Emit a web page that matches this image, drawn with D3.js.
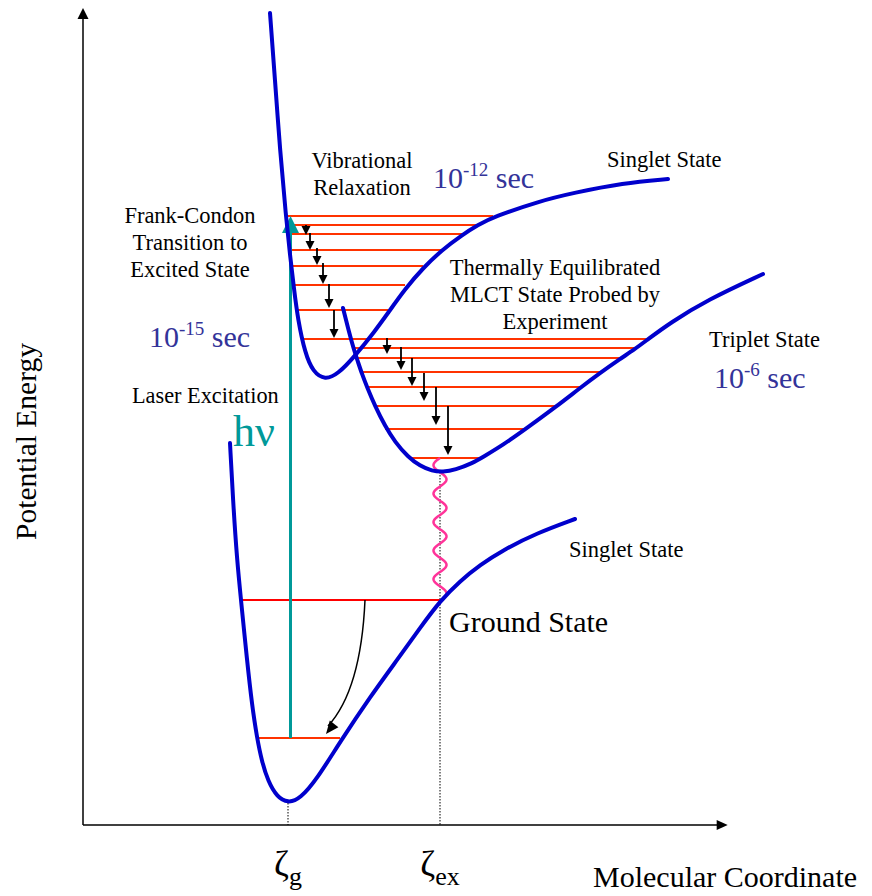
<!DOCTYPE html>
<html><head><meta charset="utf-8">
<script src="https://cdn.jsdelivr.net/npm/d3@7"></script>
<style>body{margin:0;background:#fff}</style>
</head><body>
<svg id="c" width="872" height="896"></svg>
<script>
// ---- data (x: molecular coordinate, y: potential energy; arbitrary units) ----
const groundCurve = [[14.7,38.2],[15.0,32.5],[15.4,26.5],[15.8,22.5],[16.4,16.5],[16.9,12.0],[17.4,8.7],[17.9,6.3],[18.5,4.4],[19.4,2.8],[20.5,2.2],[21.7,2.6],[23.4,4.6],[25.7,8.3],[28.7,12.8],[31.7,16.9],[33.7,19.7],[35.7,22.4],[37.7,24.4],[39.7,26.0],[42.0,27.5],[45.4,29.2],[49.2,30.6]];
const singletCurve = [[18.7,81.2],[19.2,74.5],[19.7,67.5],[20.3,60.8],[20.7,57.0],[21.1,53.6],[21.5,50.5],[22.2,47.2],[23.0,45.3],[24.2,44.5],[25.5,45.1],[27.2,46.9],[29.2,49.4],[30.5,51.2],[32.2,53.6],[34.0,55.7],[35.9,57.5],[37.9,59.0],[39.5,60.0],[41.0,60.8],[45.7,62.4],[49.0,63.2],[54.0,64.2],[58.5,64.6]];
const tripletCurve = [[26.0,51.7],[26.6,49.3],[27.1,47.5],[27.5,46.3],[27.9,45.1],[28.4,43.8],[29.2,41.9],[30.2,39.9],[31.2,38.3],[32.5,36.8],[33.7,35.9],[34.9,35.4],[36.0,35.3],[37.2,35.5],[39.0,36.2],[40.0,36.8],[42.0,38.0],[44.4,39.7],[47.4,41.9],[49.7,43.7],[51.7,45.2],[53.7,46.6],[55.2,47.6],[56.4,48.5],[58.7,50.2],[62.4,52.5],[68.0,55.1]];
// vibrational levels: [energy, coordFrom, coordTo]
const singletLevels = [[60.9,20.4,41.0],[60.0,20.4,39.5],[59.1,20.5,37.9],[57.5,20.7,35.9],[55.9,20.9,34.0],[54.0,21.0,32.2],[51.5,21.4,30.5]];
const tripletLevels = [[48.6,21.9,56.4],[47.7,27.2,55.2],[46.7,27.4,53.7],[45.3,27.9,51.7],[43.8,28.4,49.7],[41.9,29.2,47.4],[39.6,30.2,44.4],[36.7,32.5,39.9]];
const groundLevels = [[22.5,15.8,35.7],[8.7,17.4,25.7]];
// relaxation arrows: [coord, energyFrom, energyTo]
const singletRelax = [[22.3,60.0,59.0],[22.7,59.2,57.5],[23.4,57.7,56.0],[24.0,56.2,54.1],[24.6,54.1,51.7],[25.1,51.5,48.7]];
const tripletRelax = [[30.4,48.7,47.1],[31.8,47.8,45.5],[32.9,46.7,43.9],[34.1,45.2,42.4],[35.3,43.8,40.0],[36.5,41.9,37.0]];
// laser excitation: [coord, energyFrom, energyTo]
const excitation = [20.75, 8.7, 60.9];
// non-radiative decay (wavy): [coord, energyFrom, energyTo]
const decay = [35.7, 36.7, 22.7];
// ground-state relaxation curved arrow: start, control, end
const groundRelax = [[28.2,22.5],[27.8,13.5],[24.3,9.1]];
// coordinate ticks
const tickCoords = [20.5, 35.7];
const tickSubs = ["g", "ex"];
const tickFloors = [2.2, 35.3];

// ---- drawing ----
const svg = d3.select("#c");
const x = d3.scaleLinear().domain([0, 64.47]).range([83, 727.7]);
const y = d3.scaleLinear().domain([0, 81.7]).range([825, 8]);
const SERIF = "'Liberation Serif','Times New Roman',serif";
const BLUE = "#0000cc", RED = "#ff3300", TEAL = "#009999", TXTBLUE = "#333399";

// axes
const ax = svg.append("g").attr("stroke","#000").attr("stroke-width",1.5);
ax.append("line").attr("x1",x(0)).attr("y1",y(0)).attr("x2",x(0)).attr("y2",y(81.7)+10);
ax.append("line").attr("x1",x(0)).attr("y1",y(0)).attr("x2",x(64.47)-10).attr("y2",y(0));
svg.append("path").attr("fill","#000")
  .attr("d",`M${x(0)},${y(81.7)} L${x(0)-5.5},${y(81.7)+11} L${x(0)+5.5},${y(81.7)+11}Z`);
svg.append("path").attr("fill","#000")
  .attr("d",`M${x(64.47)},${y(0)} L${x(64.47)-11},${y(0)-5} L${x(64.47)-11},${y(0)+5}Z`);

// dotted drop lines
tickCoords.forEach((c,i)=>{
  svg.append("line").attr("x1",x(c)).attr("x2",x(c)).attr("y1",y(tickFloors[i])).attr("y2",y(0))
    .attr("stroke","#000").attr("stroke-width",1).attr("stroke-dasharray","1.5,1.5");
});

// vibrational levels
function levels(data, color){
  svg.append("g").selectAll("line").data(data).join("line")
    .attr("x1",d=>x(d[1])).attr("x2",d=>x(d[2])).attr("y1",d=>y(d[0])).attr("y2",d=>y(d[0]))
    .attr("stroke",color).attr("stroke-width",2);
}
levels(singletLevels, RED);
levels(tripletLevels, RED);
levels(groundLevels.slice(0,1), "#ff0000");
levels(groundLevels.slice(1), RED);

// wavy decay line
{
  const x0 = x(decay[0]), y1 = y(decay[1]), y2 = y(decay[2]);
  const pts = d3.range(0, 1.0001, 0.005).map(t=>{
    const yy = y1 + (y2-y1)*t;
    return [x0 - 6.5*Math.sin(2*Math.PI*(yy-y1)/28.5), yy];
  });
  svg.append("path").attr("d", d3.line()(pts)).attr("fill","none")
    .attr("stroke","#ff3399").attr("stroke-width",2.5);
}

// laser excitation
svg.append("line").attr("x1",x(excitation[0])).attr("x2",x(excitation[0]))
  .attr("y1",y(excitation[1])).attr("y2",y(excitation[2])+16)
  .attr("stroke",TEAL).attr("stroke-width",3);
svg.append("path").attr("fill",TEAL)
  .attr("d",`M${x(excitation[0])},${y(excitation[2])} L${x(excitation[0])-8.5},${y(excitation[2])+17} L${x(excitation[0])+8.5},${y(excitation[2])+17}Z`);

// potential curves
const line = d3.line().x(d=>x(d[0])).y(d=>y(d[1])).curve(d3.curveBasis);
[groundCurve, singletCurve, tripletCurve].forEach(c=>{
  svg.append("path").attr("d",line(c)).attr("fill","none").attr("stroke",BLUE)
    .attr("stroke-width",4).attr("stroke-linecap","round").attr("stroke-linejoin","round");
});

// relaxation arrows
function relax(data){
  const g = svg.append("g");
  data.forEach(d=>{
    const xx = x(d[0]), ya = y(d[1]), yb = y(d[2]);
    g.append("line").attr("x1",xx).attr("x2",xx).attr("y1",ya).attr("y2",yb-7)
      .attr("stroke","#000").attr("stroke-width",1.8);
    g.append("path").attr("fill","#000").attr("d",`M${xx},${yb} L${xx-4.5},${yb-9} L${xx+4.5},${yb-9}Z`);
  });
}
relax(singletRelax);
relax(tripletRelax);

// ground relaxation curved arrow
{
  const [s,c,e] = groundRelax.map(p=>[x(p[0]),y(p[1])]);
  const p = d3.path(); p.moveTo(s[0],s[1]); p.quadraticCurveTo(c[0],c[1],e[0]+2,e[1]-8);
  svg.append("path").attr("d",p.toString()).attr("fill","none").attr("stroke","#000").attr("stroke-width",1.5);
  const ang = Math.atan2(e[1]-c[1], e[0]-c[0]);
  const L=13, W=5.5;
  const bx = e[0]-L*Math.cos(ang), by = e[1]-L*Math.sin(ang);
  svg.append("path").attr("fill","#000").attr("d",
    `M${e[0]},${e[1]} L${bx+W*Math.sin(ang)},${by-W*Math.cos(ang)} L${bx-W*Math.sin(ang)},${by+W*Math.cos(ang)}Z`);
}

// ---- text ----
function txt(s, px, py, size, anchor, color){
  return svg.append("text").attr("x",px).attr("y",py).attr("font-family",SERIF)
    .attr("font-size",size).attr("text-anchor",anchor||"start").attr("fill",color||"#000").text(s);
}
txt("Vibrational",362,168,22.5,"middle");
txt("Relaxation",362,195,22.5,"middle");
txt("Frank-Condon",190,223,22.5,"middle");
txt("Transition to",190,250,22.5,"middle");
txt("Excited State",190,277,22.5,"middle");
txt("Thermally Equilibrated",555,275,22.5,"middle");
txt("MLCT State Probed by",555,302,22.5,"middle");
txt("Experiment",555,329,22.5,"middle");
txt("Singlet State",607,167,22.5);
txt("Triplet State",709,347,22.5);
txt("Singlet State",569,557,22.5);
txt("Ground State",449,632,30);
txt("Laser Excitation",132,403,22.3);
txt("hν",233,446,44,"start",TEAL);
txt("Molecular Coordinate",593,887,30);
svg.append("text").attr("transform","translate(36,441.5) rotate(-90)").attr("font-family",SERIF)
  .attr("font-size",29.5).attr("text-anchor","middle").text("Potential Energy");

function timeLabel(exp, px, py){
  const t = svg.append("text").attr("x",px).attr("y",py).attr("font-family",SERIF)
    .attr("font-size",30).attr("fill",TXTBLUE);
  t.append("tspan").text("10");
  t.append("tspan").attr("font-size",19).attr("dy",-12).text(exp);
  t.append("tspan").attr("dy",12).text(" sec");
}
timeLabel("-12",433,188);
timeLabel("-15",149,347);
timeLabel("-6",714,388);

tickCoords.forEach((c,i)=>{
  const t = svg.append("text").attr("x",x(c)).attr("y",876).attr("font-family",SERIF)
    .attr("font-size",36).attr("text-anchor","middle");
  t.append("tspan").text("ζ");
  t.append("tspan").attr("font-size",26).attr("dy",9).text(tickSubs[i]);
});
</script>
</body></html>
